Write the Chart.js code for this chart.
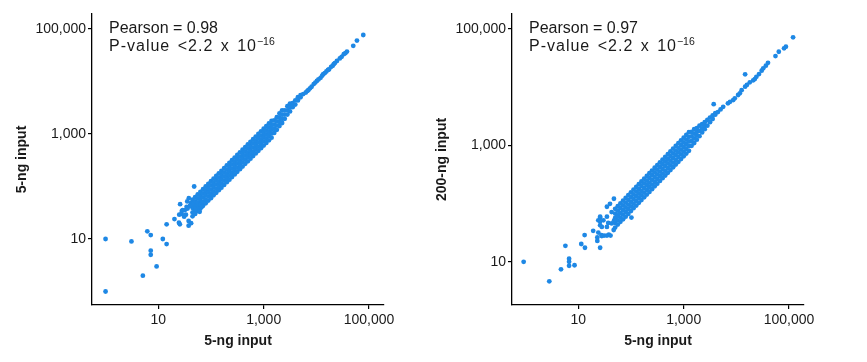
<!DOCTYPE html>
<html>
<head>
<meta charset="utf-8">
<script src="https://cdn.jsdelivr.net/npm/chart.js@4.4.0/dist/chart.umd.min.js"></script>
<style>
  html, body { margin: 0; padding: 0; background: #fff; width: 867px; height: 362px; overflow: hidden; }
  #left { position: absolute; left: 0; top: 0; }
  #right { position: absolute; left: 420px; top: 0; }
</style>
</head>
<body>
<canvas id="left" width="420" height="362"></canvas>
<canvas id="right" width="447" height="362"></canvas>
<script>
// tick labels shared by both panels
const tickValues = [10, 1000, 100000]

// ---- left panel: 5-ng vs 5-ng ----
// dense part, one row per x: [x, y, y, ...]
const leftBand = [
  [44.7, 27, 32, 39, 47, 56],
  [50.1, 30, 36, 44, 52, 63],
  [56.2, 34, 41, 49, 59, 71],
  [63.1, 38, 46, 55, 66, 79],
  [70.8, 43, 51, 62, 74, 89],
  [79.4, 48, 57, 69, 83, 100],
  [89.1, 54, 65, 78, 93, 112],
  [100, 60, 72, 87, 105, 126],
  [112, 68, 81, 98, 117, 141],
  [126, 76, 91, 110, 132, 159],
  [141, 85, 102, 123, 148, 178],
  [158, 95, 114, 138, 165, 199],
  [178, 107, 129, 155, 186, 224],
  [200, 121, 145, 174, 209, 252],
  [224, 135, 162, 195, 235, 282],
  [251, 151, 182, 219, 263, 316],
  [282, 170, 204, 246, 295, 355],
  [316, 191, 229, 275, 331, 398],
  [355, 214, 257, 309, 372, 447],
  [398, 240, 288, 347, 417, 501],
  [447, 270, 324, 389, 468, 563],
  [501, 302, 363, 436, 525, 631],
  [562, 339, 407, 490, 588, 708],
  [631, 380, 457, 550, 661, 794],
  [708, 427, 513, 617, 741, 891],
  [794, 479, 575, 692, 831, 1000],
  [891, 537, 645, 776, 933, 1122],
  [1000, 603, 724, 871, 1047, 1259],
  [1122, 677, 812, 977, 1175, 1413],
  [1259, 759, 912, 1097, 1318, 1585],
  [1413, 852, 1023, 1231, 1479, 1779],
  [1585, 1048, 1258, 1514, 1820],
  [1778, 1202, 1445, 1738, 2089],
  [1995, 1413, 1698, 2041, 2454],
  [2239, 1621, 1950, 2344, 2819],
  [2512, 1949, 2344, 2818],
  [2818, 2344, 2818, 3387],
  [3162, 2691, 3235, 3801],
  [3548, 3236, 3889],
  [3981, 3631, 4363],
  [4467, 4365, 5012],
  [5012, 5012, 5495],
  [5623, 5754]
]
// high end, single points
const leftTop = [
  [6310, 6166], [6761, 6607], [7079, 6918], [7586, 7413], [8128, 7943], [8913, 8913],
  [9550, 9550], [10233, 10233], [10965, 10965], [12023, 11749], [12882, 12882],
  [13490, 13804], [14454, 14454], [15488, 15488], [16596, 16596], [17378, 16982],
  [19055, 19055], [20417, 19953], [21380, 21380], [22387, 22387], [24547, 24547],
  [27861, 27542], [30200, 29512], [33113, 33113], [35481, 34674], [38019, 37154],
  [50119, 47863], [58884, 60256], [77625, 76913]
]
// low end, scattered
const leftLow = [
  [1, 10], [1, 1], [3.1, 9.0], [6.2, 14], [7.2, 11.9], [7.2, 6.0], [7.2, 5.0], [9.3, 3.0],
  [5.1, 2.0], [12.2, 10], [14.4, 8.0], [14.4, 19], [20.3, 24], [24.7, 20.4], [25.7, 19],
  [25, 29], [28, 34], [26, 46], [31, 26.6], [37.7, 22], [37.7, 17.9], [42, 20], [34.5, 41],
  [49, 31], [51, 37], [61, 33], [67, 41], [48, 100], [42, 48.5], [33.5, 29], [29, 35.5],
  [32, 35.5], [27.5, 30], [31, 28], [44, 46], [35.5, 52], [38, 60], [40, 43], [36, 38]
]

// ---- right panel: 5-ng vs 200-ng ----
const rightBand = [
  [50.1, 39, 47, 57, 68, 82],
  [56.2, 44, 52, 63, 76, 91],
  [63.1, 49, 58, 70, 85, 102],
  [70.8, 54, 65, 78, 94, 113],
  [79.4, 60, 73, 87, 105, 126],
  [89.1, 67, 81, 97, 117, 141],
  [100, 75, 90, 108, 130, 157],
  [112, 84, 101, 121, 145, 175],
  [126, 93, 112, 135, 162, 194],
  [141, 104, 125, 150, 180, 217],
  [158, 116, 139, 167, 201, 241],
  [178, 129, 155, 186, 224, 269],
  [200, 144, 173, 208, 249, 300],
  [224, 160, 192, 231, 278, 334],
  [251, 178, 214, 258, 310, 372],
  [282, 199, 239, 287, 345, 415],
  [316, 221, 266, 320, 385, 462],
  [355, 247, 297, 357, 429, 515],
  [398, 275, 330, 397, 477, 574],
  [447, 306, 368, 443, 532, 640],
  [501, 341, 410, 493, 593, 713],
  [562, 380, 457, 550, 660, 794],
  [631, 424, 510, 612, 736, 885],
  [708, 472, 568, 682, 820, 986],
  [794, 526, 633, 760, 914, 1099],
  [891, 586, 705, 847, 1018, 1224],
  [1000, 653, 785, 944, 1135, 1364],
  [1122, 728, 875, 1052, 1265, 1520],
  [1259, 811, 975, 1172, 1409, 1694],
  [1413, 991, 1191, 1431, 1721],
  [1585, 1104, 1327, 1595, 1918],
  [1778, 1259, 1479, 1699, 1995],
  [1995, 1445, 1778, 2187],
  [2239, 1678, 1972, 2317],
  [2512, 1906, 2188, 2512],
  [2818, 2188, 2754],
  [3162, 2512, 3020],
  [3548, 2851, 3273],
  [3981, 3388, 3600],
  [4467, 3758],
  [5012, 4169],
  [5623, 4624]
]
const rightTop = [
  [6918, 5297], [7586, 5623], [8710, 6026], [9333, 6457], [10790, 7362], [11641, 7870],
  [12589, 8913], [14655, 10233], [15849, 10965], [17989, 12162], [20893, 13183],
  [22387, 13804], [23988, 15136], [26915, 16866], [30200, 19231], [32359, 21135],
  [36308, 23442], [39811, 26303], [55208, 34356], [63826, 40738], [80353, 46559],
  [87096, 49659], [119124, 71945], [3715, 5129], [14655, 16672]
]
const rightLow = [
  [0.92, 10.1], [2.82, 4.67], [4.7, 7.5], [6.7, 11.4], [6.7, 10.1], [6.7, 8.6], [8.5, 8.8],
  [5.7, 19], [11.4, 20.4], [13.4, 17.6], [26, 17.6], [13.2, 29], [19.2, 34.4], [24, 32],
  [23, 26.5], [23, 23], [28, 28], [31, 28.5], [35, 28.5], [38, 29.5], [41, 28.5], [102, 58],
  [47.5, 122], [26, 57.5], [26, 50], [26, 43], [28, 40], [35, 40], [37, 47], [43, 46],
  [47, 35.5], [54, 60], [62, 69], [43, 72], [35, 60], [48, 52], [35, 89], [40, 100],
  [24, 52], [26, 60], [30, 52], [27.5, 29]
]

const toPoints = (band, ...pairs) => {
  const pts = []
  band.forEach(row => row.slice(1).forEach(y => pts.push({ x: row[0], y: y })))
  pairs.forEach(list => list.forEach(p => pts.push({ x: p[0], y: p[1] })))
  return pts
}

const FONT = '"Liberation Sans", Arial, Helvetica, sans-serif'
const INK = '#1a1a1a'

// Pearson / P-value text in the top left corner
const statsText = (pearson) => ({
  id: 'stats',
  afterDraw(chart) {
    const ctx = chart.ctx
    ctx.save()
    ctx.fillStyle = INK
    ctx.textBaseline = 'alphabetic'
    ctx.font = '16px ' + FONT
    ctx.fillText('Pearson = ' + pearson, 109, 32.5)
    // second line runs a little wider in the original
    ctx.letterSpacing = '1px'
    ctx.wordSpacing = '2px'
    const line2 = 'P-value <2.2 x 10'
    ctx.fillText(line2, 109, 51)
    const w = ctx.measureText(line2).width
    ctx.letterSpacing = '0px'
    ctx.wordSpacing = '0px'
    ctx.font = '10.5px ' + FONT
    ctx.fillText('\u221216', 109 + w, 44.5)
    ctx.restore()
  }
})

const logAxis = (min, max, title, isX) => ({
  type: 'logarithmic',
  min: min,
  max: max,
  afterBuildTicks: s => { s.ticks = tickValues.map(v => ({ value: v })) },
  afterFit: s => { if (isX) s.height = 57; else s.width = 92 },
  ticks: {
    color: INK,
    padding: isX ? 3 : 2,
    font: { family: FONT, size: 14 },
    callback: v => Number(v).toLocaleString('en-US')
  },
  grid: { drawOnChartArea: false, drawTicks: true, tickLength: 4, color: '#000', lineWidth: 1.2 },
  border: { display: true, color: '#000', width: 1.3 },
  title: {
    display: true,
    text: title,
    color: INK,
    font: { family: FONT, size: 14, weight: 'bold' },
    padding: isX ? { top: 0, bottom: 12.6 } : { top: 13.6, bottom: 0 }
  }
})

const makePanel = (canvas, points, yTitle, yMin, yMax, padRight, pearson) => new Chart(canvas, {
  type: 'scatter',
  data: {
    datasets: [{
      data: points,
      backgroundColor: '#1E88E5',
      borderWidth: 0,
      pointRadius: 2.4,
      pointHoverRadius: 2.4
    }]
  },
  options: {
    responsive: false,
    animation: false,
    layout: { padding: { left: 0, right: padRight, top: 14, bottom: 0 } },
    plugins: { legend: { display: false }, tooltip: { enabled: false } },
    scales: {
      x: logAxis(0.553, 192000, '5-ng input', true),
      y: logAxis(yMin, yMax, yTitle, false)
    }
  },
  plugins: [statsText(pearson)]
})

makePanel(document.getElementById('left'), toPoints(leftBand, leftTop, leftLow),
  '5-ng input', 0.553, 193000, 36, '0.98')
makePanel(document.getElementById('right'), toPoints(rightBand, rightTop, rightLow),
  '200-ng input', 1.83, 181000, 63, '0.97')
</script>
</body>
</html>
